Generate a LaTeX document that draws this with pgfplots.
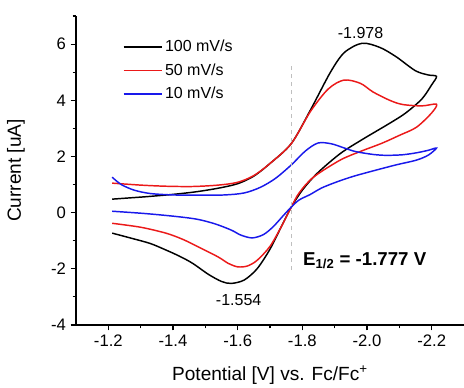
\documentclass[border=0pt]{standalone}
\usepackage{fontspec}
\setmainfont{Liberation Sans}
\usepackage{pgfplots}
\pgfplotsset{compat=1.18}
\definecolor{cvred}{RGB}{235,25,25}
\definecolor{cvblue}{RGB}{25,25,235}
\begin{document}
\begin{tikzpicture}
\begin{axis}[
  scale only axis,
  width=291pt, height=231.75pt,
  x dir=reverse,
  xmin=-2.3, xmax=-1.1,
  ymin=-4, ymax=7,
  axis x line=bottom, axis y line=left,
  axis line style={-, line width=1pt},
  tick align=outside,
  major tick length=4pt, minor tick length=2.5pt,
  every tick/.style={black, line width=0.8pt},
  xtick={-2.2,-2.0,-1.8,-1.6,-1.4,-1.2},
  xticklabels={-2.2,-2.0,-1.8,-1.6,-1.4,-1.2},
  minor xtick={-2.1,-1.9,-1.7,-1.5,-1.3},
  ytick={-4,-2,0,2,4,6},
  yticklabels={-4,-2,0,2,4,6},
  minor ytick={-3,-1,1,3,5,7},
  tick label style={font=\fontsize{12.5}{14}\selectfont},
  xlabel={Potential [V] vs. Fc/Fc\textsuperscript{+}},
  ylabel={Current [uA]},
  every axis x label/.style={at={(rel axis cs:0.5,0)}, yshift=-37.5pt, anchor=center},
  every axis y label/.style={at={(rel axis cs:0,0.5)}, xshift=-45pt, rotate=90, anchor=center},
  label style={font=\fontsize{14.3}{16}\selectfont},
  clip=false,
  legend style={at={(rel axis cs:0.11,0.94)}, anchor=north west, draw=none, fill=none,
    font=\fontsize{12}{14}\selectfont, cells={anchor=west}, row sep=3.5pt},
  legend image code/.code={\draw[#1] (0cm,0cm) -- (1cm,0cm);},
]
\addplot[black, line width=1.1pt, smooth, tension=0.5] coordinates {
(-1.212,0.48) (-1.26,0.52) (-1.32,0.57) (-1.40,0.65) (-1.47,0.74) (-1.54,0.87) (-1.60,1.03) (-1.65,1.3) (-1.70,1.75) (-1.766,2.46) (-1.825,3.65) (-1.887,5.0) (-1.93,5.7) (-1.985,6.03) (-2.04,5.88) (-2.09,5.55) (-2.15,5.05) (-2.19,4.9) (-2.215,4.85)
(-2.20,4.55) (-2.17,4.05) (-2.12,3.55) (-2.07,3.18) (-1.985,2.6) (-1.917,2.1) (-1.846,1.4) (-1.80,0.8) (-1.766,0.2) (-1.735,-0.5) (-1.70,-1.3) (-1.66,-2.0) (-1.62,-2.4) (-1.58,-2.52) (-1.55,-2.45) (-1.51,-2.2) (-1.46,-1.8) (-1.42,-1.55) (-1.378,-1.33) (-1.33,-1.1) (-1.274,-0.92) (-1.212,-0.73)
};
\addlegendentry{100 mV/s}
\addplot[cvred, line width=1.1pt, smooth, tension=0.5] coordinates {
(-1.212,1.05) (-1.30,0.98) (-1.378,0.94) (-1.46,0.93) (-1.54,0.98) (-1.60,1.08) (-1.65,1.32) (-1.70,1.75) (-1.766,2.46) (-1.825,3.6) (-1.88,4.4) (-1.929,4.72) (-1.98,4.6) (-2.018,4.3) (-2.07,4.0) (-2.11,3.85) (-2.17,3.8) (-2.215,3.86)
(-2.20,3.55) (-2.153,3.04) (-2.1,2.75) (-2.046,2.47) (-1.98,2.18) (-1.917,1.87) (-1.834,1.26) (-1.79,0.7) (-1.766,0.2) (-1.735,-0.5) (-1.70,-1.2) (-1.66,-1.7) (-1.63,-1.9) (-1.60,-1.93) (-1.57,-1.8) (-1.54,-1.58) (-1.48,-1.23) (-1.43,-0.95) (-1.378,-0.73) (-1.30,-0.52) (-1.212,-0.38)
};
\addlegendentry{50 mV/s}
\addplot[cvblue, line width=1.1pt, smooth, tension=0.5] coordinates {
(-1.212,1.26) (-1.24,1.0) (-1.28,0.8) (-1.33,0.68) (-1.40,0.63) (-1.48,0.62) (-1.56,0.63) (-1.62,0.7) (-1.67,0.9) (-1.717,1.22) (-1.766,1.7) (-1.81,2.2) (-1.849,2.48) (-1.89,2.45) (-1.93,2.3) (-1.966,2.17) (-2.02,2.07) (-2.06,2.04) (-2.11,2.06) (-2.153,2.13) (-2.19,2.22) (-2.215,2.3)
(-2.19,2.05) (-2.153,1.87) (-2.09,1.7) (-2.03,1.52) (-1.96,1.3) (-1.908,1.1) (-1.86,0.88) (-1.825,0.65) (-1.79,0.45) (-1.766,0.2) (-1.74,-0.12) (-1.71,-0.5) (-1.68,-0.78) (-1.645,-0.9) (-1.61,-0.8) (-1.58,-0.62) (-1.53,-0.4) (-1.477,-0.24) (-1.42,-0.15) (-1.36,-0.08) (-1.30,-0.02) (-1.212,0.05)
};
\addlegendentry{10 mV/s}
\addplot[gray!50, dashed, line width=0.6pt, forget plot] coordinates {(-1.766,-2.05) (-1.766,5.3)};
\node[font=\fontsize{12}{14}\selectfont] at (axis cs:-1.98,6.39) {-1.978};
\node[font=\fontsize{12}{14}\selectfont] at (axis cs:-1.603,-3.11) {-1.554};
\node[anchor=west, font=\fontsize{14}{16}\selectfont\bfseries] at (axis cs:-1.788,-1.7) {E\textsubscript{1/2} = -1.777 V};
\end{axis}
\pgfresetboundingbox
\path[use as bounding box] ([shift={(-57pt,-47.25pt)}]current axis.south west) rectangle ([shift={(291pt,243.75pt)}]current axis.south west);
\end{tikzpicture}
\end{document}
